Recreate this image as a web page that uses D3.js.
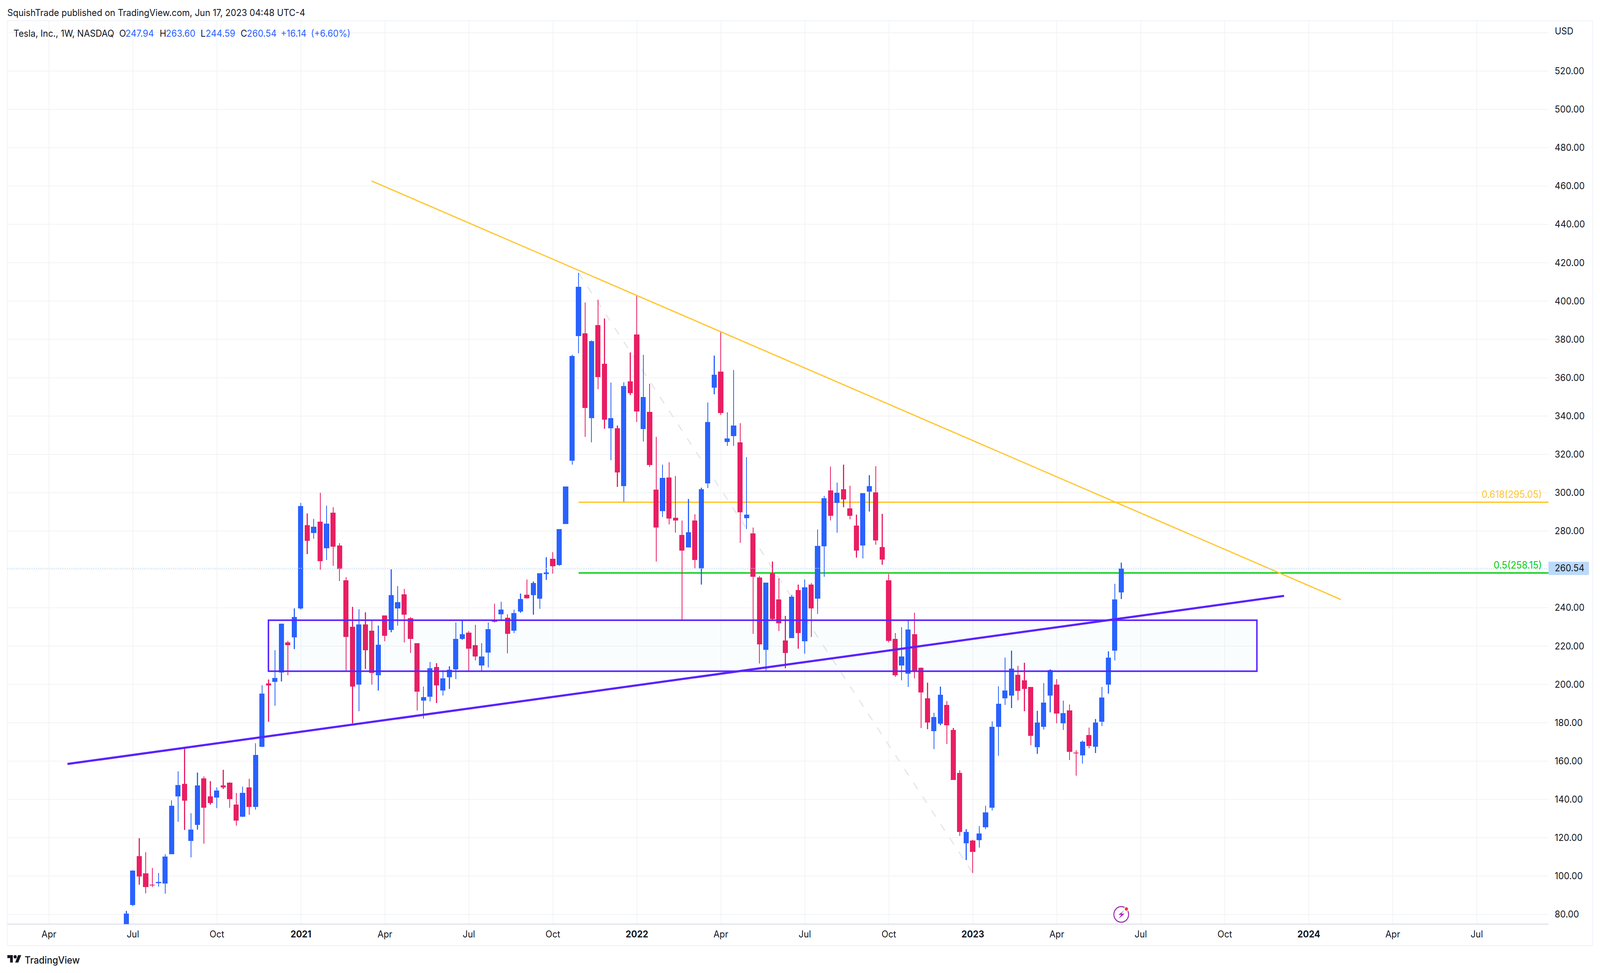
<!DOCTYPE html>
<html><head><meta charset="utf-8">
<script src="https://cdn.jsdelivr.net/npm/d3@7"></script>
<style>
html,body{margin:0;padding:0;background:#fff;overflow:hidden;width:100vw;height:100vh}
svg{display:block;width:100vw;height:100vh}
text{font-family:Inter,"Noto Sans",sans-serif;fill:#131722}
</style></head><body>
<svg id="chart" viewBox="0 0 4348 2490" preserveAspectRatio="none"></svg>
<script>
const opens=[72,84.9,110.4,101.4,95.6,96.4,96.2,111.5,141.5,148.2,
118.4,126.8,151,141.5,140.9,147.3,148.7,137.3,131,146.3,
136,167.5,200.6,201.4,206.2,222,224.5,239.6,283,278.9,
285,271.1,289.7,272.5,254.3,230,200,231.2,228,204.8,
235.9,228.4,239.6,246.9,234.5,221.6,191.6,193.6,209.1,196.9,
203.8,207.9,223.7,227.1,220.5,209.8,216.7,233.3,236.5,234.8,
228.1,238,246.7,246.5,244.7,257.5,265.5,262.2,283.6,316.8,
381.7,383.2,338.9,387.5,367.2,333.6,333.6,303.5,358,382.6,
333.3,342.3,301.6,290.5,307.9,287,277.9,271.4,285.5,260.5,
304.9,354.8,363.2,326.5,329.6,326.3,286.7,278.7,255.7,218.1,
257.9,244.3,223,224.2,249.3,222.6,252,244.7,272,301.2,
294.8,301.8,291.8,282.8,272.4,300.6,300.2,271.7,254.4,223.8,
209.8,205.6,226.2,208.6,192.7,175.6,179.6,189.4,176.2,153.9,
117.2,118.5,118.7,125.4,135.6,177.8,192.7,194.1,204.9,202.1,
198.6,167.2,177.8,194.1,199.8,179.7,186.4,164.5,162.9,173.7,
167.4,180.5,199.8,217.6,247.94];
const highs=[81.8,103.1,119.7,112.5,104.2,101.7,111.4,139.6,154.6,167.1,
132.9,154,152,149.6,146.3,155.4,149,143.5,146.6,150.8,
169.4,199.5,202.5,217.9,231.7,222.8,239.6,294.8,289.2,286.4,
300.1,293.3,292.5,273.6,255.9,240.4,239.2,237.7,233.5,230.7,
235.9,260,251.2,249.8,235.2,221.6,198.8,211.8,211.2,207.5,
209.4,232.4,233.5,227.9,231,221.6,232.4,242.2,243.2,236.5,
239,247.3,254.8,253.7,258.1,266.3,269,281,303.2,371.9,
414.7,399.2,379.5,400.8,391,357.5,335.1,357.7,373.1,403,
371.9,356.9,329.1,314.6,316,308.7,285.5,296.8,288.7,302.6,
347,371.6,383.8,342,364.1,336.3,318.6,281.8,256.5,253.2,
264.2,255.4,235.7,246.7,252,254.8,253,280.8,298.3,313.7,
305.2,314.7,303.7,288.5,299.7,309.2,313.8,288.9,257.5,226.8,
229.8,233.5,237.4,208.8,200.9,185.2,198.8,191.3,177.3,155.2,
124.4,118.9,126.1,136.6,180.7,199,213.9,217.6,209.6,211.3,
198.6,186.2,200.7,207.8,202.8,191.5,189.6,165.6,170.7,177.4,
181.9,198.6,217.2,252.5,263.6];
const lows=[70,84.4,95.5,91.1,94.2,94.4,90.9,111.5,128.4,124,
109.8,124.3,117,137.3,135.4,145.5,135.7,126.4,130.7,132,
134.6,167.2,180.5,188.8,201.5,204.7,218.4,239,267.9,276,
259.9,265,261.8,254,206.9,179.7,186.1,208.1,200,196.9,
222.6,227.3,230.6,222,216.5,186.5,182.2,191.2,190.4,194.2,
197.7,202.8,223.4,206.5,212.6,206.7,208.9,232.4,233.6,216.2,
226.9,237.5,244.8,236.3,239.5,254.5,257.7,261.8,283.6,314.6,
372.8,329.1,326.3,354,333.4,316.9,303,295.3,351,336.8,
326.7,313.4,264.1,287.3,283.5,279.2,233.5,271.4,260.5,252,
302.4,351.3,340.6,324.4,324.4,273.9,281.1,226.5,210.9,207,
233.8,227.9,208.5,224.2,218.7,216.1,224.8,236.9,256.2,285.5,
279.3,292.4,286.2,266.1,265.7,290.3,272.8,262.4,222,204,
202.1,198.6,203.1,177.3,176.6,166.2,178.6,169,150.1,121,
108.3,101.7,114.8,124.4,134.2,162.7,189.4,187.6,191.7,186,
168.4,163.9,176.4,185.4,179.7,176.2,160.5,152.3,158.8,166.6,
164.3,178.2,195.2,212.5,244.59];
const closes=[80.5,102.9,99.8,94.2,95.1,97,110.1,136.7,147.6,139.3,
124.2,147.4,135.6,138.1,144.6,146.3,140.1,129,143.4,136,
163.2,195.2,199.5,203.3,231.7,220.4,235.1,293.1,275,282.2,
264.3,283.9,271.8,260.2,224.8,198.9,231.2,217.9,206,220.6,
225.4,246.5,243,236.3,223.8,196.3,193.4,208.4,199.4,203.2,
207.7,223.8,226.3,218.7,214.5,214.5,228.9,232.8,239,226.5,
237.3,244.5,245,253,258.1,258.4,261.6,281,303.2,371.4,
407.5,344.3,379.2,360.4,338.1,338.9,310.5,355.7,352,342.4,
349.9,314.5,281.8,307.8,286.5,285.5,269.8,279.4,264.9,301.8,
336.9,361.6,341.6,328.4,335.1,289.9,288.5,256.2,220.9,253.2,
234.2,232,216.5,245.7,226.8,250.7,239.7,272.2,297.1,287.9,
300,296.5,287.9,269.9,299.7,303.4,275.1,265.1,222.7,204.7,
214.5,228.6,207.1,195.8,180.1,182.9,194.7,178.8,150.1,123,
123.1,112.7,122.3,133.3,177.8,190,196.8,208.2,196.6,197.6,
173.1,180.1,190.5,207.4,184.8,185,164.8,164.1,170.1,167.8,
180.1,193.1,213.9,244.3,260.54];

const priceTicks=[80,100,120,140,160,180,200,220,240,260,280,300,320,340,360,380,400,420,440,460,480,500,520];
const gridOnlyPrices=[540];
const monthWeeks=[-12,1,14,27,40,53,66,79,92,105,118,131,144,157,170,183,196,209];
const monthLabels=["Apr","Jul","Oct","2021","Apr","Jul","Oct","2022","Apr","Jul","Oct","2023","Apr","Jul","Oct","2024","Apr","Jul"];
const boxWeeks=[22,175], boxPrices=[206.9,233.5];
const supportLine=[[-9.1,158.5],[179.2,246.2]];
const resistanceLine=[[37.95,462.7],[188,244.3]];
const swingLine=[[70,414.7],[131,101.7]];
const fibLevels=[{label:"0.618(295.05)",price:295.05,color:"#FFC62E"},{label:"0.5(258.15)",price:258.15,color:"#00CC10"}];
const fibStartWeek=70;
const lastClose=260.54;

const W=4348,H=2490,L=20,T=53,R=4208,B=2365,OR=4328,OB=2420;
const BLUE="#2962FF",RED="#E91E63",PURPLE="#5A22FF",GRID="#F2F3F5",TXT="#131722";
const FS=24;
const x=d3.scaleLinear().domain([-18.41,220.13]).range([L,R]);
const y=d3.scaleLinear().domain([74.93,546.27]).range([B,T]);
const svg=d3.select("#chart");

svg.append("defs").append("clipPath").attr("id","pane").append("rect").attr("x",L).attr("y",T).attr("width",R-L).attr("height",B-T);

// grid
const gx=svg.append("g").attr("transform",`translate(0,${B})`)
 .call(d3.axisBottom(x).tickValues(monthWeeks).tickSize(-(B-T)).tickPadding(17).tickFormat((d,i)=>monthLabels[i]));
gx.select(".domain").remove();
gx.selectAll("line").attr("stroke",GRID).attr("stroke-width",2);
gx.selectAll("text").attr("font-size",FS).attr("font-weight",(d,i)=>/^\d/.test(monthLabels[i])?700:400).attr("fill",TXT);
const gy=svg.append("g").attr("transform",`translate(${R},0)`)
 .call(d3.axisRight(y).tickValues(priceTicks).tickSize(0).tickPadding(17).tickFormat(d3.format(".2f")));
gy.select(".domain").remove();
gy.selectAll("text").attr("font-size",FS).attr("fill",TXT);
svg.append("g").selectAll("line").data(priceTicks.concat(gridOnlyPrices)).join("line")
 .attr("x1",L).attr("x2",R).attr("y1",d=>y(d)).attr("y2",d=>y(d)).attr("stroke",GRID).attr("stroke-width",2);

// frame
svg.append("path").attr("d",`M${L},${OB}V${T}H${OR}V${OB}H${L}`).attr("fill","none").attr("stroke","#F0F3FA").attr("stroke-width",2.5);
svg.append("line").attr("x1",L).attr("x2",R).attr("y1",B).attr("y2",B).attr("stroke","#E0E3EB").attr("stroke-width",3);

const pane=svg.append("g").attr("clip-path","url(#pane)");

// fib levels (behind candles)
pane.selectAll(".fib").data(fibLevels).join("line").attr("class","fib")
 .attr("x1",x(fibStartWeek)).attr("x2",R).attr("y1",d=>y(d.price)).attr("y2",d=>y(d.price))
 .attr("stroke",d=>d.color).attr("stroke-width",3.5);
// swing dashed
const ln=d3.line().x(d=>x(d[0])).y(d=>y(d[1]));
pane.append("path").attr("d",ln(swingLine)).attr("stroke","#E4E6EA").attr("stroke-width",3.2).attr("stroke-dasharray","20 23").attr("fill","none");

// candles
const idx=d3.range(opens.length);
const col=i=>closes[i]>=opens[i]?BLUE:RED;
const cg=pane.append("g").attr("shape-rendering","crispEdges");
cg.selectAll(".wick").data(idx).join("rect").attr("class","wick")
 .attr("x",i=>x(i)-1).attr("width",2.4).attr("y",i=>y(highs[i])).attr("height",i=>Math.max(1,y(lows[i])-y(highs[i]))).attr("fill",col);
cg.selectAll(".body").data(idx).join("rect").attr("class","body")
 .attr("x",i=>x(i)-7).attr("width",14).attr("y",i=>y(Math.max(opens[i],closes[i])))
 .attr("height",i=>Math.max(2,Math.abs(y(opens[i])-y(closes[i])))).attr("fill",col);

// box
pane.append("rect").attr("x",x(boxWeeks[0])).attr("y",y(boxPrices[1])).attr("width",x(boxWeeks[1])-x(boxWeeks[0])).attr("height",y(boxPrices[0])-y(boxPrices[1]))
 .attr("fill","rgba(0,188,212,0.025)").attr("stroke",PURPLE).attr("stroke-width",4);
// trend lines
pane.append("path").attr("d",ln(supportLine)).attr("stroke",PURPLE).attr("stroke-width",5.5).attr("fill","none");
pane.append("path").attr("d",ln(resistanceLine)).attr("stroke","#FFC62E").attr("stroke-width",3.2).attr("fill","none");
// last price dotted
pane.append("line").attr("x1",L).attr("x2",R).attr("y1",y(lastClose)).attr("y2",y(lastClose)).attr("stroke","#BBD9FB").attr("stroke-width",2).attr("stroke-dasharray","2.5 3.5");

// fib labels
svg.append("g").selectAll("text").data(fibLevels).join("text").attr("x",4190).attr("y",d=>y(d.price)-11).attr("text-anchor","end")
 .attr("font-size",25).style("fill",d=>d.color).text(d=>d.label);

// last price chip
svg.append("path").attr("d",`M${R},${y(lastClose)-17}H${R+107}a3,3 0 0 1 3,3V${y(lastClose)+14}a3,3 0 0 1 -3,3H${R}Z`).attr("fill","#BBD9FB");
svg.append("text").attr("x",R+17).attr("y",y(lastClose)).attr("dy",".32em").attr("font-size",FS).text(d3.format(".2f")(lastClose));
svg.append("text").attr("x",R+17).attr("y",80).attr("dy",".32em").attr("font-size",FS).text("USD");

// header
const sym="Tesla, Inc., 1W, NASDAQ";
svg.append("text").attr("x",20).attr("y",33).attr("dy",".35em").attr("font-size",FS).text("SquishTrade published on TradingView.com, Jun 17, 2023 04:48 UTC-4");
const hdr=[[37,sym,TXT],[324,"O",TXT],[341,"247.94",BLUE],[434,"H",TXT],[451,"263.60",BLUE],[545,"L",TXT],[559,"244.59",BLUE],[654,"C",TXT],[671,"260.54",BLUE],[763,"+16.14",BLUE],[845,"(+6.60%)",BLUE]];
svg.append("g").selectAll("text").data(hdr).join("text").attr("x",d=>d[0]).attr("y",86).attr("dy",".35em").attr("font-size",FS).style("fill",d=>d[2]).text(d=>d[1]);

// logo
const lg=svg.append("g").attr("transform","translate(20,2440) scale(1.06)").attr("fill","#131722");
lg.append("path").attr("d","M14 22H7V11H0V4h14v18zM28 22h-8l7.5-18h8L28 22z");
lg.append("circle").attr("cx",20).attr("cy",8).attr("r",4);
svg.append("text").attr("x",67).attr("y",2457).attr("dy",".35em").attr("font-size",25).attr("font-weight",500).text("TradingView");

// flash icon
const ic=svg.append("g").attr("transform",`translate(${x(154)},${y(80)})`);
ic.append("circle").attr("r",20).attr("fill","#fff").attr("stroke","#9C27B0").attr("stroke-width",2.6);
ic.append("path").attr("d","M8 -10L-8 1H0L-7 11L9 -2H0Z").attr("fill","#9C27B0");
ic.append("circle").attr("cx",14).attr("cy",-14).attr("r",5.5).attr("fill","#F23645").attr("stroke","#fff").attr("stroke-width",2);
</script></body></html>
